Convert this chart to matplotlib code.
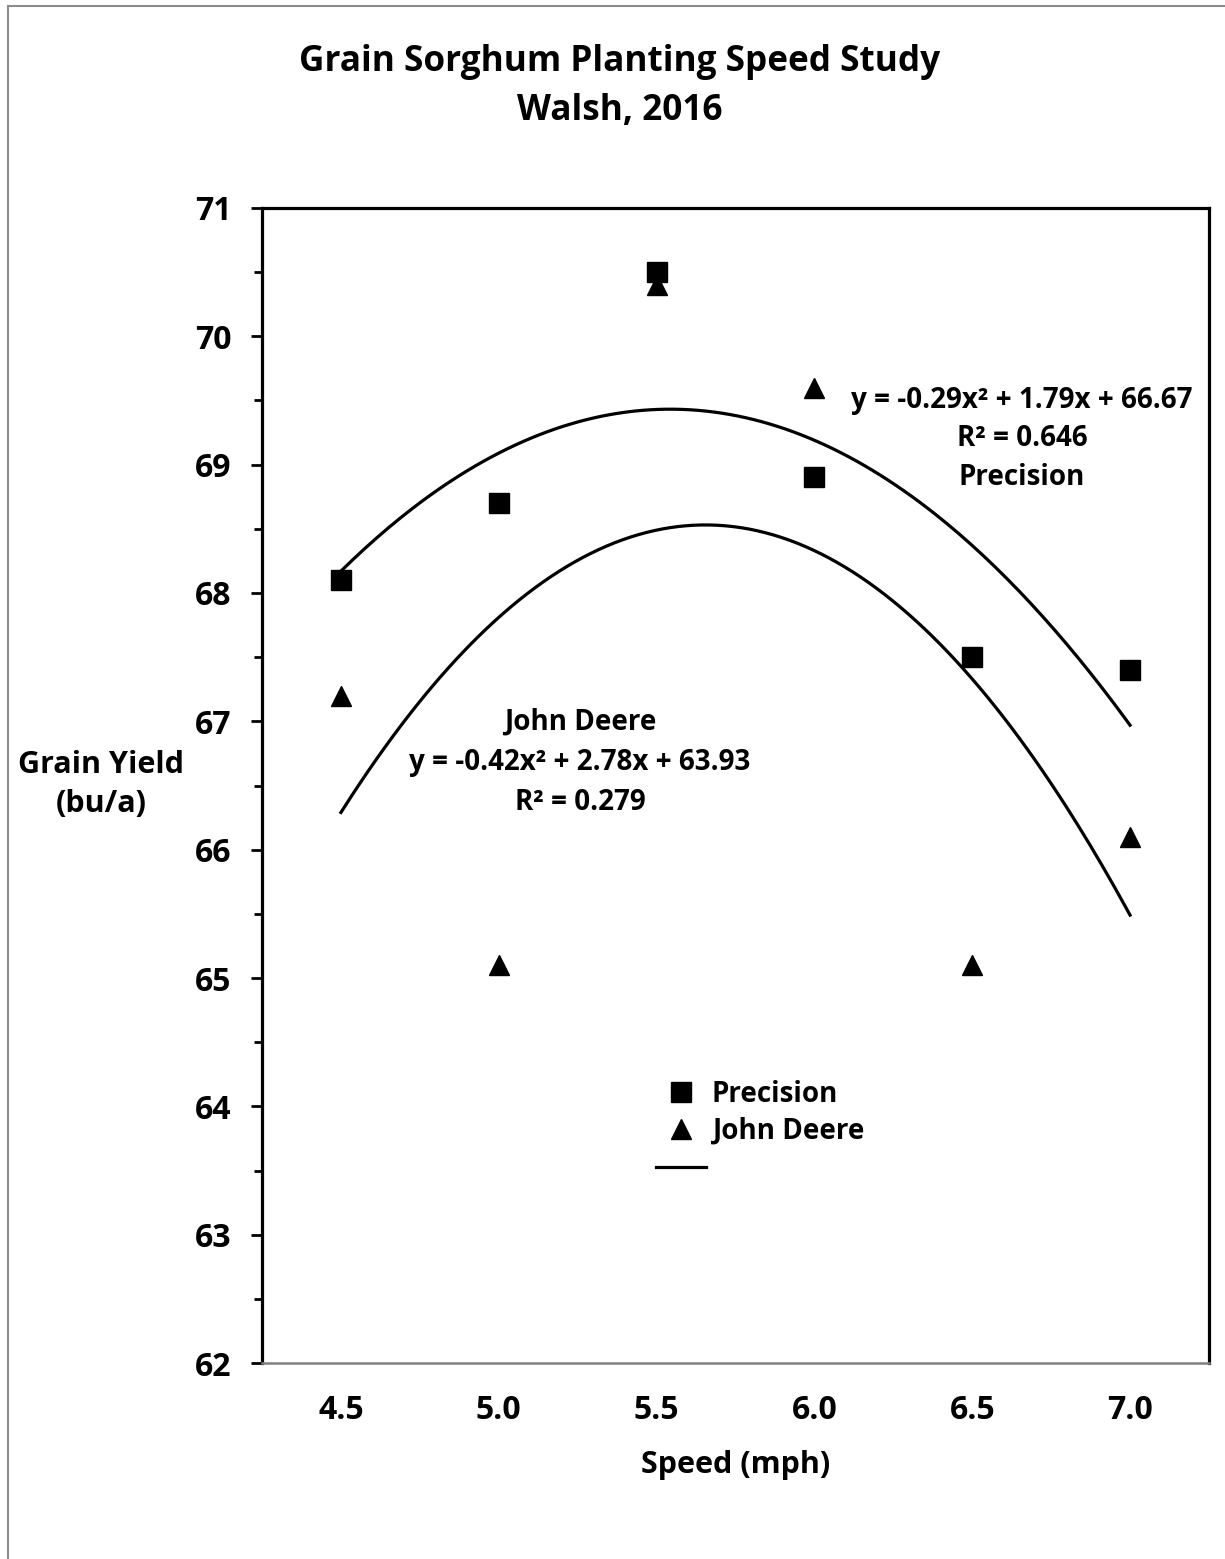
import numpy as np
import matplotlib
matplotlib.use('Agg')
import matplotlib.pyplot as plt
from matplotlib.lines import Line2D
from matplotlib.patches import Rectangle

plt.rcParams['font.family'] = ['Open Sans', 'DejaVu Sans']
plt.rcParams['font.weight'] = 'bold'

# data
speeds = ['4.5', '5.0', '5.5', '6.0', '6.5', '7.0']
precision = [68.1, 68.7, 70.5, 68.9, 67.5, 67.4]
john_deere = [67.2, 65.1, 70.4, 69.6, 65.1, 66.1]
# polynomial trendline coefficients as printed (x = category index 1..6)
prec_coef = [-0.29, 1.79, 66.67]
jd_coef = [-0.42, 2.78, 63.93]

fig = plt.figure(figsize=(12.25, 15.59), dpi=100)
ax = fig.add_axes([0.2139, 0.1257, 0.773, 0.7409])

x = np.arange(1, len(speeds) + 1)
ax.plot(x, precision, 's', color='black', markersize=14.5, zorder=3)
ax.plot(x, john_deere, '^', color='black', markersize=15, zorder=3)

xs = np.linspace(1, 6, 200)
ax.plot(xs, np.polyval(prec_coef, xs), color='black', lw=2.3)
ax.plot(xs, np.polyval(jd_coef, xs), color='black', lw=2.3)

ax.set_xlim(0.5, 6.5)
ax.set_ylim(62, 71)
ax.set_xticks(x)
ax.set_xticklabels(speeds)
ax.set_yticks(np.arange(62, 72, 1))
ax.set_yticks(np.arange(62.5, 71, 1), minor=True)
ax.tick_params(axis='x', length=0, pad=22, labelsize=23)
ax.tick_params(axis='y', which='major', direction='out', length=8, width=2, pad=14, labelsize=23)
ax.tick_params(axis='y', which='minor', direction='out', length=6, width=2)

for s in ['left', 'top', 'right']:
    ax.spines[s].set_linewidth(2.3)
ax.spines['bottom'].set_color('#808080')
ax.spines['bottom'].set_linewidth(1.8)

ax.set_xlabel('Speed (mph)', fontsize=22, fontweight='bold', labelpad=17)
fig.text(0.0825, 0.497, 'Grain Yield\n(bu/a)', ha='center', va='center',
         fontsize=22, fontweight='bold', linespacing=1.4)

fig.suptitle('Grain Sorghum Planting Speed Study\nWalsh, 2016', x=0.506, y=0.972,
             fontsize=25.3, fontweight='bold', linespacing=1.5)

ax.text(5.316, 69.2, 'y = -0.29x² + 1.79x + 66.67\nR² = 0.646\nPrecision',
        ha='center', va='center', fontsize=20, fontweight='bold', linespacing=1.42)
ax.text(2.515, 66.68, 'John Deere\ny = -0.42x² + 2.78x + 63.93\nR² = 0.279',
        ha='center', va='center', fontsize=20, fontweight='bold', linespacing=1.5)

handles = [Line2D([], [], ls='none', marker='s', color='black', markersize=14),
           Line2D([], [], ls='none', marker='^', color='black', markersize=14),
           Line2D([], [], color='black', lw=2.3)]
ax.legend(handles, ['Precision', 'John Deere', ''], loc='upper left',
          bbox_to_anchor=(0.39, 0.267), frameon=False, fontsize=20,
          handlelength=1.8, handletextpad=0.2, labelspacing=0.3)

# outer chart border
fig.patches.append(Rectangle((8 / 1225, -0.1), 1.2, 1 - 6 / 1559 + 0.1,
                             transform=fig.transFigure, fill=False,
                             edgecolor='#8c8c8c', lw=1.5))

fig.savefig('out.png', dpi=100)
